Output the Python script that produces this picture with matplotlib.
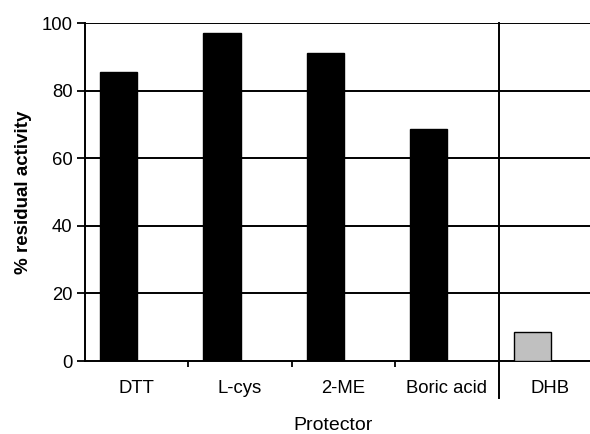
import matplotlib
matplotlib.use("Agg")
import matplotlib.pyplot as plt
import numpy as np

categories = ["DTT", "L-cys", "2-ME", "Boric acid", "DHB"]
protector_vals = [85.5, 97, 91, 68.5, np.nan]
dhb_vals = [np.nan, np.nan, np.nan, np.nan, 8.5]
y_ticks = [0, 20, 40, 60, 80, 100]

plt.rcParams['font.family'] = ['Liberation Sans', 'DejaVu Sans']

fig = plt.figure(figsize=(5.9, 4.34), dpi=100)
# axes runs past right edge of figure like the cropped original
ax = fig.add_axes([85/590, 73/434, 517/590, 338/434])

x = np.arange(len(categories))
off = -0.175
w = 0.36
ax.bar(x + off, protector_vals, width=w, color='black', edgecolor='black', linewidth=1, zorder=3)
ax.bar(x + off, dhb_vals, width=w, color='#c0c0c0', edgecolor='black', linewidth=1, zorder=3)

ax.set_xlim(-0.5, len(categories) - 0.5)
ax.set_ylim(0, 100)
ax.set_yticks(y_ticks)
ax.tick_params(axis='y', labelsize=13.3, direction='out', length=6, width=1.3, pad=3)
for yv in y_ticks[1:]:
    ax.axhline(yv, color='black', lw=1.4, zorder=1)

ax.set_xticks(x)
ax.set_xticklabels(categories, fontsize=13.3)
ax.tick_params(axis='x', length=0, pad=14)
ax.set_xticks(x[:-2] + 0.5, minor=True)
ax.tick_params(axis='x', which='minor', direction='out', length=4, width=1.3)

# separator between the protector group and DHB
ax.axvline(3.5, ymin=-0.11, ymax=1, color='black', lw=1.4, clip_on=False, zorder=2)

for s in ['top', 'right']:
    ax.spines[s].set_visible(False)
ax.spines['left'].set_linewidth(1.4)
ax.spines['bottom'].set_linewidth(1.4)

ax.set_ylabel("% residual activity", fontsize=13.5, fontweight='bold', labelpad=7)
fig.text(333/590, 1 - 426/434, "Protector", fontsize=14, ha='center', va='center')

fig.savefig("out.png", dpi=100)
